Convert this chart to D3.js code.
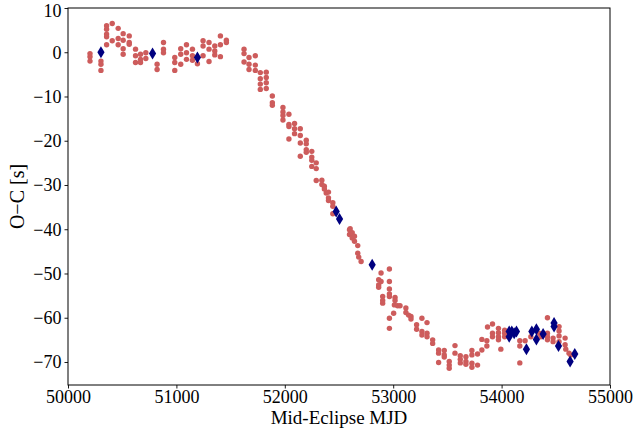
<!DOCTYPE html>
<html><head><meta charset="utf-8">
<script src="https://cdn.jsdelivr.net/npm/d3@7"></script>
<style>body{margin:0;background:#fff}svg{display:block}</style>
</head><body>
<svg id="c" width="633" height="435"></svg>
<script>
const xTicks = [50000, 51000, 52000, 53000, 54000, 55000];
const yTicks = [10, 0, -10, -20, -30, -40, -50, -60, -70];
const xLabel = "Mid-Eclipse MJD";
const yLabel = "O\u2212C [s]";

// red circles: [MJD, O-C]
const redMJD = [
50203,50203,50203, 50304,50304,50304, 50356,50356,50356,50356,50356, 50408,50408,
50463,50463,50463, 50509,50509,50509,50509, 50565,50565,50565, 50623,50623,50623,
50669,50669,50669, 50718,50718, 50822,50822, 50881,50881,50881, 50985,50985,50985,
51040,51040,51040, 51093,51093,51093, 51148,51148,51148, 51194, 51246,51246,51246,
51301,51301,51301, 51354,51354,51354, 51406,51406,51406, 51461,51461,
51624,51624,51624, 51670,51670,51670, 51728,51728,51728, 51774,51774,51774,51774,
51829,51829,51829,51829, 51885,51885,51885,
51983,51983,51983,51983, 52038,52038,52038,52038, 52090,52090,52090,
52143,52143,52143,52143, 52198,52198,52198,52198, 52249,52249,52249,52249,
52290,52290,52290, 52342,52342, 52365,52365, 52382,52403,52403,52403,
52443,52443,52443, 52603,
52597,52597,52622,52622,52643,52643,52673, 52673,52682,52704,
52888,52965,52965, 52866,52866,52888,52866, 52965,52965,52965, 52903,52903,52903,
53017,53017, 53011,53041,53063, 52965,52965,53004,
53117,53117,53142,53164,53164, 53216,53216,53265,53265,53265,53312,53312,53312,
53364,53364, 53419,53419,53419,53471,53471,53471, 53517,53517,53517,
53570,53570,53619,53619,53619, 53671,53671,53671,
53726,53726,53726,53726,53778,53778,
53818,53818, 53864,53864, 53870,53916,53916,53916,
53971,53971,53971,53971,53993, 54028,54028,54028,
54168,54168,54168,54217, 54270,54346,54362,
54423,54423,54423,54423, 54475,54475, 54530,54530,54530,54530,
54586,54586,54592, 54622,54638
];
const redOC = [
-0.3,-1,-2, -2,-2.7,-4.1, 6,5.2,4.1,3.5,1.7, 6.5,2.6,
5.4,3.1,1.7, 4.2,2.7,0.8,-0.45, 3.7,2.2,1.8, 0.7,-0.8,-2.3,
-0.45,-1.6,-2.3, -0.1,-1.4, -2.7,-3.9, 2.2,0.7,-0.1, -1.2,-2.3,-4.1,
0.8,-0.45,-2.7, 1.7,-0.1,-1.6, 0.7,-0.8,-1.8, -2.6, 2.6,1.4,-0.8,
2.2,0.7,-2.1, 1.4,0.3,-0.6, 3.7,1.7,-1, 2.7,2.2,
0.7,-0.3,-2.2, -1.2,-2.7,-3.9, -0.8,-2.9,-4.1, -4.6,-6,-7.2,-8.4,
-4.5,-5.7,-6.9,-8.2, -9.9,-11.4,-12,
-12.5,-13.5,-14.3,-15.3, -14,-16.3,-16.8,-19.6, -16.1,-17.3,-18.4,
-17.3,-18.8,-20.5,-23.5, -19.9,-20.7,-22,-22.6, -22.4,-23.7,-24.4,-25.8,
-25,-26.3,-29, -28.9,-29.9, -30.3,-30.9, -31.8,-31.6,-32.9,-33.5,
-34,-34.8,-36.5, -39.9,
-40.1,-41.2,-40.8,-42,-41.6,-42.7,-43.7, -45.4,-46.3,-47.3,
-49.9,-49,-51.8, -51.4,-52.6,-51.8,-53.1, -53.5,-54.6,-55.2, -55.2,-56.1,-56.7,
-55.4,-56.1, -57.1,-57.3,-57.3, -60.1,-62.4,-59,
-57.8,-58.8,-59.4,-59.7,-60.3, -61.6,-62.6,-60.1,-63.1,-63.9,-61.1,-63.5,-64.3,
-65,-65.8, -67.3,-68,-70.1,-67.4,-68.4,-68.9, -69.9,-70.7,-71.4,
-66.3,-68,-68.6,-69.4,-70.2, -68.8,-69.9,-70.5,
-67.4,-68.4,-70.3,-71.2,-68.2,-70.7,
-64.9,-67.3, -65.2,-66.4, -62.1,-61.4,-63.5,-64.3,
-62.4,-63.4,-64.3,-65,-67.1, -62.8,-64.3,-63.5,
-65.2,-66.4,-70.2,-65.2, -64.3,-63.5,-64.3,
-60,-63.5,-64.3,-65, -64.6,-65.4, -62,-63,-64.1,-65.4,
-64.6,-66.1,-67.1, -68,-68.4
];

// navy diamonds
const blueMJD = [50304, 50780, 51194, 52474, 52505, 52806, 54070, 54070, 54094, 54116, 54137,
  54229, 54279, 54321, 54321, 54383, 54484, 54484, 54525, 54632, 54675];
const blueOC = [0, -0.3, -1.2, -36, -37.7, -48, -63.1, -64.3, -63.1, -63.5, -63.1,
  -67.1, -63.1, -62.6, -64.9, -63.7, -61.2, -62, -66.4, -69.9, -68.2];

const W = 633, H = 435;
const m = {left: 68, right: 23, top: 8, bottom: 50};
const svg = d3.select("#c");
const font = "'Liberation Serif','DejaVu Serif',serif";

const x = d3.scaleLinear().domain([50000, 55000]).range([m.left, W - m.right]);
const y = d3.scaleLinear().domain([-75.2, 10]).range([H - m.bottom, m.top]);

const red = redMJD.map((d, i) => [d, redOC[i]]);
const blue = blueMJD.map((d, i) => [d, blueOC[i]]);

svg.append("g").selectAll("circle").data(red).join("circle")
  .attr("cx", d => x(d[0])).attr("cy", d => y(d[1])).attr("r", 2.7)
  .attr("fill", "#cd5c5c");

const dw = 3.6, dh = 6.0;
svg.append("g").selectAll("path").data(blue).join("path")
  .attr("d", d => { const cx = x(d[0]), cy = y(d[1]);
    return `M${cx},${cy-dh}L${cx+dw},${cy}L${cx},${cy+dh}L${cx-dw},${cy}Z`; })
  .attr("fill", "#000080");

// frame
svg.append("rect").attr("x", m.left).attr("y", m.top)
  .attr("width", W - m.left - m.right).attr("height", H - m.top - m.bottom)
  .attr("fill", "none").attr("stroke", "#000").attr("stroke-width", 1);

const xa = svg.append("g").attr("transform", `translate(0,${H - m.bottom})`)
  .call(d3.axisBottom(x).tickValues(xTicks).tickFormat(d3.format("d")).tickSize(3.5).tickPadding(1.5));
const ya = svg.append("g").attr("transform", `translate(${m.left},0)`)
  .call(d3.axisLeft(y).tickValues(yTicks).tickFormat(d => d < 0 ? "\u2212" + Math.abs(d) : String(d)).tickSize(3.5).tickPadding(3));
[xa, ya].forEach(a => {
  a.select(".domain").remove();
  a.selectAll("line").attr("stroke", "#000").attr("stroke-width", 0.9);
  a.selectAll("text").attr("fill", "#000").style("font-family", font).style("font-size", "18px");
});
// keep the top tick label fully inside the window
ya.selectAll(".tick text").filter(d => d === 10).attr("dy", "0.45em");

svg.append("text").attr("x", (m.left + W - m.right) / 2).attr("y", 424)
  .attr("text-anchor", "middle").style("font-family", font).style("font-size", "19px")
  .text(xLabel);
svg.append("text").attr("transform", `translate(24,${(m.top + H - m.bottom) / 2}) rotate(-90)`)
  .attr("text-anchor", "middle").style("font-family", font).style("font-size", "20px")
  .text(yLabel);
</script>
</body></html>
